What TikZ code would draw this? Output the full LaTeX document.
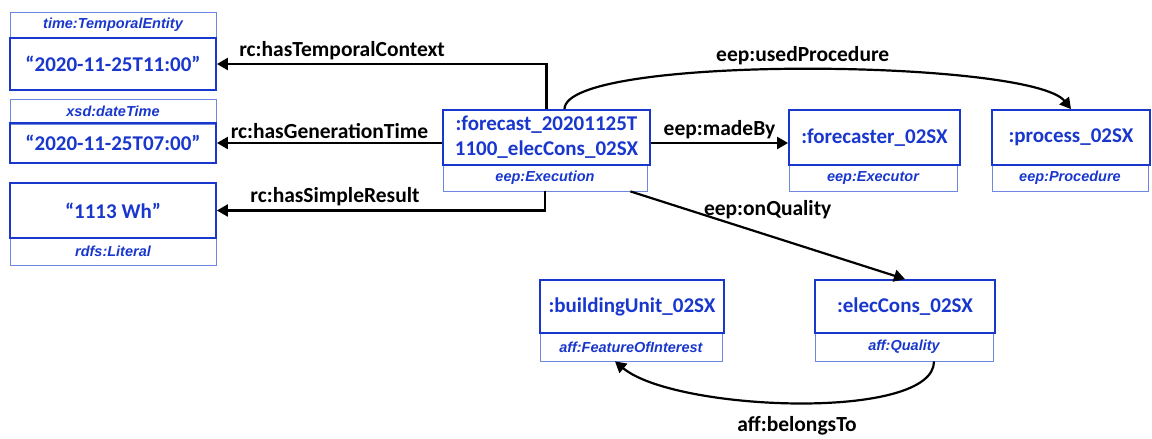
\documentclass[tikz,border=0pt]{standalone}
\usepackage{fontspec}
\setmainfont{Carlito}
\newfontfamily\typefont{Liberation Sans}
\usetikzlibrary{arrows.meta}
\definecolor{entblue}{RGB}{25,55,205}
\definecolor{typeblue}{RGB}{110,135,225}
\begin{document}
\begin{tikzpicture}[x=1pt,y=-1pt,
    entity/.style={draw=entblue,line width=1.8pt,text=entblue,inner sep=0pt,align=center,
      font=\bfseries\fontsize{21}{25}\selectfont},
    kind/.style={draw=typeblue,line width=0.8pt,text=entblue,inner sep=0pt,
      font=\typefont\bfseries\itshape\fontsize{14.5}{16}\selectfont},
    rel/.style={draw=black,line width=2.2pt,-{Triangle[length=11pt,width=12pt]}},
    lbl/.style={font=\bfseries\fontsize{21.5}{25}\selectfont,text=black}]
  \useasboundingbox (0,0) rectangle (1152,439);

  % type labels
  \begin{scope}[every node/.style={kind}]
    \node[minimum width=206,minimum height=26] (tk) at (113,25)    {time:TemporalEntity};
    \node[minimum width=206,minimum height=25] (gk) at (113,111.5) {xsd:dateTime};
    \node[minimum width=206,minimum height=27] (rk) at (113,251.5) {rdfs:Literal};
    \node[minimum width=204,minimum height=26] (xk) at (545,178)   {eep:Execution};
    \node[minimum width=168,minimum height=26] (fk) at (873,178)   {eep:Executor};
    \node[minimum width=156,minimum height=26] (pk) at (1070,178)  {eep:Procedure};
    \node[minimum width=182,minimum height=28] (bk) at (631,347)   {aff:FeatureOfInterest};
    \node[minimum width=178,minimum height=28] (ek) at (904,347)   {aff:Quality};
  \end{scope}

  % resources and literals
  \begin{scope}[every node/.style={entity}]
    \node[minimum width=206,minimum height=52] (tval)  at (113,64)      {“2020-11-25T11:00”};
    \node[minimum width=206,minimum height=40] (gval)  at (113,143)     {“2020-11-25T07:00”};
    \node[minimum width=206,minimum height=55] (res)   at (113,210.5)   {“1113 Wh”};
    \node[minimum width=207,minimum height=55] (exec)  at (546.5,137.5) {:forecast\_20201125T\\1100\_elecCons\_02SX};
    \node[minimum width=171,minimum height=55] (fcst)  at (874.5,137.5) {:forecaster\_02SX};
    \node[minimum width=158,minimum height=55] (proc)  at (1071,137.5)  {:process\_02SX};
    \node[minimum width=184,minimum height=53] (bunit) at (632,306.5)   {:buildingUnit\_02SX};
    \node[minimum width=180,minimum height=53] (econs) at (905,306.5)   {:elecCons\_02SX};
  \end{scope}

  % properties
  \begin{scope}[every node/.style={lbl}]
    \draw[rel] (exec.north) |- node[above,pos=0.81] {rc:hasTemporalContext} (tval.east);
    \draw[rel] (exec.west |- gval.east) -- node[above] {rc:hasGenerationTime} (gval.east);
    \draw[rel] (xk.south) |- node[above,pos=0.82] {rc:hasSimpleResult} (res.east);
    \draw[rel] (exec.east |- gval.east) -- node[above] {eep:madeBy} (fcst.west |- gval.east);
    \draw[rel] ([xshift=18]exec.north) .. controls +(0,-55) and +(-40,-50) .. node[above] {eep:usedProcedure} (proc.north);
    \draw[rel] ([xshift=-17]xk.south east) -- node[above=12pt] {eep:onQuality} (econs.north);
    \draw[rel] ([xshift=30]ek.south) .. controls +(0,60) and +(60,50) .. node[below=9pt] {aff:belongsTo} ([xshift=-16]bk.south);
  \end{scope}
\end{tikzpicture}
\end{document}
